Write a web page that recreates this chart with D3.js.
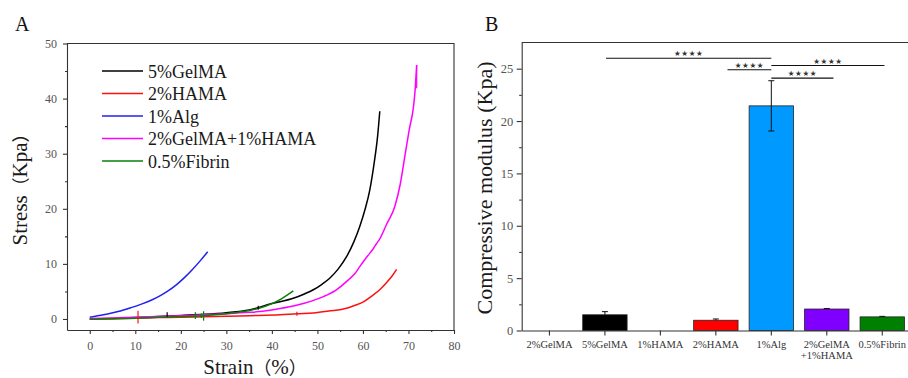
<!DOCTYPE html>
<html>
<head>
<meta charset="utf-8">
<script src="https://cdn.jsdelivr.net/npm/d3@7"></script>
<style>
  body { margin: 0; background: #fff; }
  svg { display: block; }
  text { font-family: "Liberation Serif", "Times New Roman", serif; }
</style>
</head>
<body>
<svg id="chart" width="908" height="378"></svg>
<script>
// ---- panel A data: stress-strain curves [strain %, stress Kpa] ----
const seriesNames = ["5%GelMA", "2%HAMA", "1%Alg", "2%GelMA+1%HAMA", "0.5%Fibrin"];
const seriesColors = ["#000000", "#ff1010", "#2020f0", "#ff00ff", "#0a800a"];

const gelma5 = [[0,0],[5,0.1],[10,0.25],[15,0.45],[20,0.65],[25,0.85],[30,1.15],[35,1.65],[40,2.8],[44.7,3.75],[47,4.5],[49.1,5.3],[51,6.3],[52.7,7.4],[54.5,9],[56.4,11.3],[58,14],[59.3,16.8],[60.5,20],[61.5,23.4],[62.5,28.5],[63.2,33],[63.7,37.7]];
const hama2 = [[0,0],[5,0.05],[10,0.15],[15,0.25],[20,0.3],[25,0.4],[30,0.5],[35,0.6],[41.8,0.75],[45.5,0.95],[49.1,1.1],[52.5,1.45],[56.4,1.95],[58.3,2.5],[60.1,3.1],[62,4.2],[63.7,5.3],[65.2,6.6],[66.4,7.8],[67.4,9.0]];
const alg1 = [[0,0.3],[3,0.75],[6.2,1.35],[9,2.05],[11.5,2.75],[13.6,3.45],[15.5,4.25],[17.2,5.1],[19,6.2],[20.9,7.6],[22.5,8.95],[24.2,10.5],[25.9,12.2]];
const gelmaHama = [[0,0.1],[5,0.2],[10,0.3],[15,0.45],[20,0.6],[25,0.75],[30,0.95],[35,1.2],[38,1.4],[41.8,1.9],[45.4,2.5],[48.5,3.2],[51.3,4.05],[54,5.2],[56.8,7.1],[58.2,8.2],[59.3,9.5],[60.8,11.2],[62.3,12.8],[63,13.7],[63.6,14.4],[65.2,17.2],[67,20.4],[68.2,24.5],[69.2,29.5],[70.2,34.5],[71.1,38.5],[71.5,42],[71.8,46.1]];
const fibrin = [[0,-0.05],[5,0.05],[10,0.15],[15,0.3],[20,0.45],[25,0.6],[30,0.95],[34,1.4],[37,1.9],[39.9,2.75],[42,3.6],[43.5,4.4],[44.7,5.1]];
const seriesData = [gelma5, hama2, alg1, gelmaHama, fibrin];

// small measurement spikes on the curves: [series index, strain, stress low, stress high]
const spikes = [[1,10.6,-0.8,1.5],[1,45.5,0.6,1.3],[0,17,0.4,1.2],[0,37,1.7,2.4],[4,23.2,0,1.2],[4,25,-0.3,1.4],[4,24.5,0.2,1.0],[3,71.8,41.9,46.1]];

// ---- panel B data: compressive modulus ----
const groups = ["2%GelMA", "5%GelMA", "1%HAMA", "2%HAMA", "1%Alg", "2%GelMA+1%HAMA", "0.5%Fibrin"];
const moduli = [0, 1.5, 0, 0.98, 21.45, 2.05, 1.3];
const moduliErr = [0, 0.3, 0, 0.12, 2.4, 0.05, 0.05];
const barColors = ["#000000", "#000000", "#ff0000", "#ff0000", "#0099ff", "#8000ff", "#008000"];
// significance bars: [from group index, to group index, height Kpa]
const sigBars = [[1.02,4,26.0],[3.21,4,24.9],[4,6.04,25.3],[4,5.12,24.1]];

const svg = d3.select("#chart");
const axisColor = "#333";
const tickColor = "#555";
const serif = "'Liberation Serif', 'Times New Roman', serif";
const cjk = "'Noto Sans CJK SC', sans-serif";

// ================= Panel A =================
const xA = d3.scaleLinear().domain([-5, 80]).range([67, 454]);
const yA = d3.scaleLinear().domain([-2, 50]).range([330, 43.5]);

function styleAxis(g) {
    g.attr("font-family", null);
    g.selectAll("path, line").attr("stroke", axisColor).attr("stroke-width", 1.1);
    g.selectAll("text").attr("fill", tickColor).style("font-family", serif);
}

const gxA = svg.append("g").attr("transform", "translate(0,330)")
    .call(d3.axisBottom(xA).tickValues(d3.range(0, 81, 10)).tickSize(4).tickSizeOuter(0).tickPadding(7.5))
    .call(g => g.selectAll("text").attr("font-size", 12));
styleAxis(gxA);
const gxAm = svg.append("g").attr("transform", "translate(0,330)")
    .call(d3.axisBottom(xA).tickValues(d3.range(5, 80, 10)).tickSize(2).tickFormat(""));
gxAm.select(".domain").remove();
styleAxis(gxAm);

const gyA = svg.append("g").attr("transform", "translate(67,0)")
    .call(d3.axisLeft(yA).tickValues(d3.range(0, 51, 10)).tickSize(4).tickSizeOuter(0).tickPadding(6))
    .call(g => g.selectAll("text").attr("font-size", 12));
styleAxis(gyA);
const gyAm = svg.append("g").attr("transform", "translate(67,0)")
    .call(d3.axisLeft(yA).tickValues(d3.range(5, 50, 10)).tickSize(2).tickFormat(""));
gyAm.select(".domain").remove();
styleAxis(gyAm);

// frame top/right
svg.append("path")
    .attr("d", `M${xA(-5)},${yA(50)}H${xA(80)}V${yA(-2)}`)
    .attr("fill", "none").attr("stroke", axisColor).attr("stroke-width", 1.1);

const lineA = d3.line().x(d => xA(d[0])).y(d => yA(d[1])).curve(d3.curveMonotoneX);
seriesData.forEach((data, i) => {
    svg.append("path").datum(data)
        .attr("d", lineA)
        .attr("fill", "none")
        .attr("stroke", seriesColors[i])
        .attr("stroke-width", 1.5);
});
svg.selectAll(".spike").data(spikes).enter().append("line")
    .attr("class", "spike")
    .attr("x1", d => xA(d[1])).attr("x2", d => xA(d[1]))
    .attr("y1", d => yA(d[2])).attr("y2", d => yA(d[3]))
    .attr("stroke", d => seriesColors[d[0]])
    .attr("stroke-width", 1.2);

// legend
const legend = svg.append("g").attr("transform", "translate(102,71)");
seriesNames.forEach((name, i) => {
    const row = legend.append("g").attr("transform", `translate(0,${i * 22.5})`);
    row.append("line").attr("x1", 0).attr("x2", 41).attr("y1", 0).attr("y2", 0)
        .attr("stroke", seriesColors[i]).attr("stroke-width", 1.5);
    row.append("text").attr("x", 46).attr("y", 6.5)
        .attr("font-size", 18).attr("fill", "#1a1a1a").text(name);
});

// axis titles with full-width brackets
function mixedTitle(sel, word, inner) {
    sel.append("tspan").style("font-family", serif).text(word);
    sel.append("tspan").style("font-family", cjk).attr("font-size", "0.85em").text("（");
    sel.append("tspan").style("font-family", serif).text(inner);
    sel.append("tspan").style("font-family", cjk).attr("font-size", "0.85em").text("）");
}
const xTitle = svg.append("text").attr("x", 255).attr("y", 374).attr("text-anchor", "middle")
    .attr("font-size", 21).attr("fill", "#1a1a1a");
mixedTitle(xTitle, "Strain", "%");
const yTitle = svg.append("text").attr("transform", "translate(27,185) rotate(-90)").attr("text-anchor", "middle")
    .attr("font-size", 21).attr("fill", "#1a1a1a");
mixedTitle(yTitle, "Stress", "Kpa");
svg.append("text").attr("x", 15).attr("y", 31).attr("font-size", 20).attr("fill", "#111").text("A");

// ================= Panel B =================
const xB = d3.scaleBand().domain(groups).range([521.7, 910]).paddingInner(0.2).paddingOuter(0.1);
const yB = d3.scaleLinear().domain([0, 27.5]).range([330.5, 42.5]);
const step = xB.step();
const cx = i => xB(groups[0]) + xB.bandwidth() / 2 + i * step;

const gyB = svg.append("g").attr("transform", "translate(521.7,0)")
    .call(d3.axisLeft(yB).tickValues(d3.range(0, 26, 5)).tickSize(5).tickSizeOuter(0).tickPadding(3.5))
    .call(g => g.selectAll("text").attr("font-size", 12.5));
styleAxis(gyB);
const gyBm = svg.append("g").attr("transform", "translate(521.7,0)")
    .call(d3.axisLeft(yB).tickValues(d3.range(2.5, 27.5, 5)).tickSize(2.5).tickFormat(""));
gyBm.select(".domain").remove();
styleAxis(gyBm);

svg.append("line").attr("x1", 521.7).attr("x2", 910).attr("y1", yB(27.5)).attr("y2", yB(27.5))
    .attr("stroke", axisColor).attr("stroke-width", 1.1);

svg.selectAll(".bar").data(groups).enter().append("rect")
    .attr("class", "bar")
    .attr("x", d => xB(d))
    .attr("width", xB.bandwidth())
    .attr("y", (d, i) => yB(moduli[i]))
    .attr("height", (d, i) => yB(0) - yB(moduli[i]))
    .attr("fill", (d, i) => barColors[i])
    .attr("stroke", (d, i) => moduli[i] > 0 ? "#222" : "none")
    .attr("stroke-width", 0.8);

// error bars
const errG = svg.append("g");
groups.forEach((g, i) => {
    if (moduliErr[i] <= 0) return;
    const x = cx(i);
    const y1 = yB(moduli[i] + moduliErr[i]);
    const y0 = yB(i === 4 ? moduli[i] - moduliErr[i] : moduli[i]);
    errG.append("line").attr("x1", x).attr("x2", x).attr("y1", y1).attr("y2", y0)
        .attr("stroke", "#111").attr("stroke-width", 1);
    errG.append("line").attr("x1", x - 3).attr("x2", x + 3).attr("y1", y1).attr("y2", y1)
        .attr("stroke", "#111").attr("stroke-width", 1);
    if (i === 4) {
        errG.append("line").attr("x1", x - 3).attr("x2", x + 3).attr("y1", y0).attr("y2", y0)
            .attr("stroke", "#111").attr("stroke-width", 1);
    }
});

const gxB = svg.append("g").attr("transform", `translate(0,${yB(0)})`)
    .call(d3.axisBottom(xB).tickSize(5).tickSizeOuter(0).tickPadding(5.4));
styleAxis(gxB);
gxB.selectAll("text").attr("font-size", 10.5).attr("fill", "#333")
    .each(function (d) {
        const t = d3.select(this);
        if (d === "2%GelMA+1%HAMA") {
            t.text(null);
            t.append("tspan").attr("x", 0).text("2%GelMA");
            t.append("tspan").attr("x", 0).attr("dy", "1.0em").text("+1%HAMA");
        }
    });

// significance lines
svg.selectAll(".sig").data(sigBars).enter().append("line")
    .attr("class", "sig")
    .attr("x1", d => cx(d[0])).attr("x2", d => cx(d[1]))
    .attr("y1", d => yB(d[2])).attr("y2", d => yB(d[2]))
    .attr("stroke", "#111").attr("stroke-width", 1.1);
svg.selectAll(".sigtxt").data(sigBars).enter().append("text")
    .attr("class", "sigtxt")
    .attr("x", d => (cx(d[0]) + cx(d[1])) / 2)
    .attr("y", d => yB(d[2]) - 2)
    .attr("text-anchor", "middle")
    .attr("font-size", 7.5)
    .attr("letter-spacing", 0.6)
    .style("font-family", "'DejaVu Sans', sans-serif")
    .attr("fill", "#333")
    .text("★★★★");

svg.append("text").attr("transform", "translate(492,188) rotate(-90)").attr("text-anchor", "middle")
    .attr("font-size", 22).attr("fill", "#1a1a1a").text("Compressive modulus (Kpa)");
svg.append("text").attr("x", 485).attr("y", 31).attr("font-size", 20).attr("fill", "#111").text("B");
</script>
</body>
</html>
